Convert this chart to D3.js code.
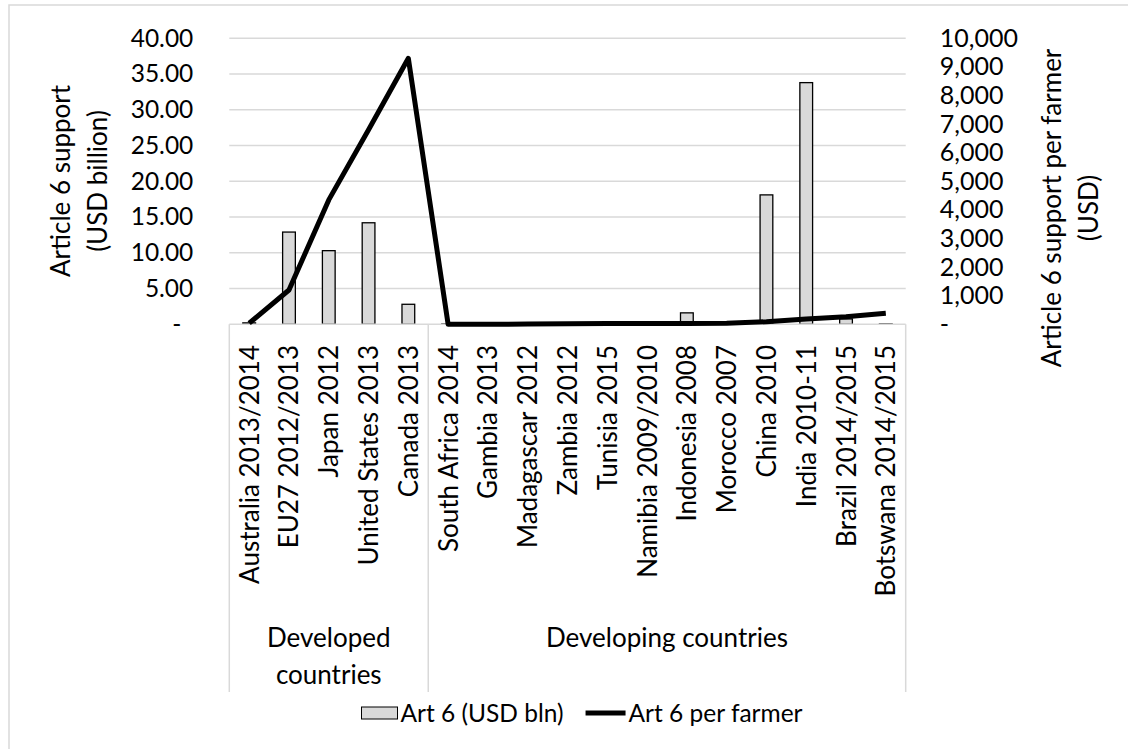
<!DOCTYPE html>
<html>
<head>
<meta charset="utf-8">
<script src="https://cdn.jsdelivr.net/npm/d3@7"></script>
<style>
  body { margin: 0; background: #fff; }
  svg text { font-family: Lato, "Open Sans", sans-serif; fill: #000; }
</style>
</head>
<body>
<svg id="chart" width="1128" height="749"></svg>
<script>
// Categories along the x axis, in order
var categories = [
  'Australia 2013/2014', 'EU27 2012/2013', 'Japan 2012', 'United States 2013',
  'Canada 2013', 'South Africa 2014', 'Gambia 2013', 'Madagascar 2012',
  'Zambia 2012', 'Tunisia 2015', 'Namibia 2009/2010', 'Indonesia 2008',
  'Morocco 2007', 'China 2010', 'India 2010-11', 'Brazil 2014/2015',
  'Botswana 2014/2015'
];

// Groups of the second category level: name lines and how many categories
var groupNames = [['Developed', 'countries'], ['Developing countries']];
var groupSizes = [5, 12];

// Art 6 support, USD billion (bars, left axis)
var art6Bln = [0.2, 12.9, 10.3, 14.2, 2.8, 0.05, 0.02, 0.03, 0.05, 0.05, 0.05,
  1.6, 0.05, 18.1, 33.8, 0.75, 0.05];

// Art 6 support per farmer, USD (line, right axis)
var art6PerFarmer = [40, 1200, 4350, 6800, 9300, 0, 0, 10, 20, 30, 30, 30, 40,
  90, 185, 265, 385];

var leftTicks = [0, 5, 10, 15, 20, 25, 30, 35, 40];
var rightTicks = [0, 1000, 2000, 3000, 4000, 5000, 6000, 7000, 8000, 9000, 10000];

var seriesNames = ['Art 6 (USD bln)', 'Art 6 per farmer'];

var svg = d3.select('#chart');
var FS = 26;       // labels and titles
var TICK_FS = 24.5;
var LEG_FS = 24.5;
var GRID = '#d9d9d9';

var plot = { left: 229.3, right: 905.7, top: 38.3, bottom: 324.3 };

// outer frame
svg.append('rect')
  .attr('x', 9).attr('y', 5)
  .attr('width', 1200).attr('height', 800)
  .attr('fill', 'none').attr('stroke', GRID).attr('stroke-width', 1.5);

var x = d3.scaleBand().domain(categories).range([plot.left, plot.right]);
var yL = d3.scaleLinear().domain([0, 40]).range([plot.bottom, plot.top]);
var yR = d3.scaleLinear().domain([0, 10000]).range([plot.bottom, plot.top]);

// gridlines
svg.append('g').selectAll('line')
  .data(leftTicks.slice(1))
  .enter().append('line')
  .attr('x1', plot.left).attr('x2', plot.right)
  .attr('y1', function(d) { return yL(d); })
  .attr('y2', function(d) { return yL(d); })
  .attr('stroke', GRID).attr('stroke-width', 1.5);

// bars
var barW = x.bandwidth() * 0.32;
svg.append('g').selectAll('rect')
  .data(art6Bln)
  .enter().append('rect')
  .attr('x', function(d, i) { return x(categories[i]) + (x.bandwidth() - barW) / 2; })
  .attr('y', function(d) { return yL(d); })
  .attr('width', barW)
  .attr('height', function(d) { return yL(0) - yL(d); })
  .attr('fill', '#d9d9d9')
  .attr('stroke', '#000').attr('stroke-width', 1.3);

// category axis lines
var axisBottom = 692;
svg.append('line')
  .attr('x1', plot.left).attr('x2', plot.right)
  .attr('y1', plot.bottom).attr('y2', plot.bottom)
  .attr('stroke', GRID).attr('stroke-width', 1.5);

var bounds = [0];
groupSizes.forEach(function(n, i) { bounds.push(bounds[i] + n); });
svg.append('g').selectAll('line')
  .data(bounds)
  .enter().append('line')
  .attr('x1', function(d) { return plot.left + d * x.step(); })
  .attr('x2', function(d) { return plot.left + d * x.step(); })
  .attr('y1', plot.bottom).attr('y2', axisBottom)
  .attr('stroke', GRID).attr('stroke-width', 1.5);

// line series
var line = d3.line()
  .x(function(d, i) { return x(categories[i]) + x.bandwidth() / 2; })
  .y(function(d) { return yR(d); });

svg.append('path')
  .datum(art6PerFarmer)
  .attr('d', line)
  .attr('fill', 'none')
  .attr('stroke', '#000').attr('stroke-width', 5)
  .attr('stroke-linejoin', 'round');

// category labels
svg.append('g').selectAll('text')
  .data(categories)
  .enter().append('text')
  .attr('transform', function(d) {
    return 'translate(' + (x(d) + x.bandwidth() / 2 + 9.5) + ',345) rotate(-90)';
  })
  .attr('text-anchor', 'end')
  .style('font-size', FS + 'px')
  .text(function(d) { return d; });

// group labels
groupNames.forEach(function(lines, g) {
  var cx = plot.left + (bounds[g] + bounds[g + 1]) / 2 * x.step();
  var t = svg.append('text')
    .attr('text-anchor', 'middle')
    .style('font-size', FS + 'px');
  lines.forEach(function(s, k) {
    t.append('tspan').attr('x', cx).attr('y', 647 + k * 37).text(s);
  });
});

// left axis
var axL = svg.append('g')
  .attr('transform', 'translate(' + plot.left + ',0)')
  .call(d3.axisLeft(yL).tickValues(leftTicks).tickSize(0).tickPadding(36)
    .tickFormat(function(d) { return d === 0 ? '-' : d3.format('.2f')(d); }));
axL.select('.domain').remove();
axL.selectAll('text')
  .style('font-size', TICK_FS + 'px')
  .attr('dx', function(d) { return d === 0 ? -12 : 0; });

// right axis
var axR = svg.append('g')
  .attr('transform', 'translate(' + plot.right + ',0)')
  .call(d3.axisRight(yR).tickValues(rightTicks).tickSize(0).tickPadding(34)
    .tickFormat(function(d) { return d === 0 ? '-' : d3.format(',')(d); }));
axR.select('.domain').remove();
axR.selectAll('text').style('font-size', (TICK_FS + 0.5) + 'px');

// axis titles
svg.append('text')
  .attr('transform', 'translate(70,181) rotate(-90)')
  .attr('text-anchor', 'middle')
  .style('font-size', FS + 'px')
  .selectAll('tspan')
  .data(['Article 6 support', '(USD billion)'])
  .enter().append('tspan')
  .attr('x', 0).attr('y', function(d, i) { return i * 37; })
  .text(function(d) { return d; });

svg.append('text')
  .attr('transform', 'translate(1061,208) rotate(-90)')
  .attr('text-anchor', 'middle')
  .style('font-size', FS + 'px')
  .selectAll('tspan')
  .data(['Article 6 support per farmer', '(USD)'])
  .enter().append('tspan')
  .attr('x', 0).attr('y', function(d, i) { return i * 37; })
  .text(function(d) { return d; });

// legend, laid out from measured text widths and centred
var leg = svg.append('g');
var box = leg.append('rect')
  .attr('y', 707).attr('width', 36).attr('height', 12)
  .attr('fill', '#d9d9d9').attr('stroke', '#000').attr('stroke-width', 1);
var t1 = leg.append('text').attr('y', 722)
  .style('font-size', LEG_FS + 'px').text(seriesNames[0]);
var ln = leg.append('line').attr('y1', 713).attr('y2', 713)
  .attr('stroke', '#000').attr('stroke-width', 5);
var t2 = leg.append('text').attr('y', 722)
  .style('font-size', LEG_FS + 'px').text(seriesNames[1]);

var w1 = t1.node().getComputedTextLength();
var w2 = t2.node().getComputedTextLength();
var total = 36 + 3 + w1 + 22 + 40 + 3 + w2;
var lx = 582 - total / 2;
box.attr('x', lx);
t1.attr('x', lx + 39);
ln.attr('x1', lx + 39 + w1 + 22).attr('x2', lx + 39 + w1 + 62);
t2.attr('x', lx + 39 + w1 + 65);
</script>
</body>
</html>
